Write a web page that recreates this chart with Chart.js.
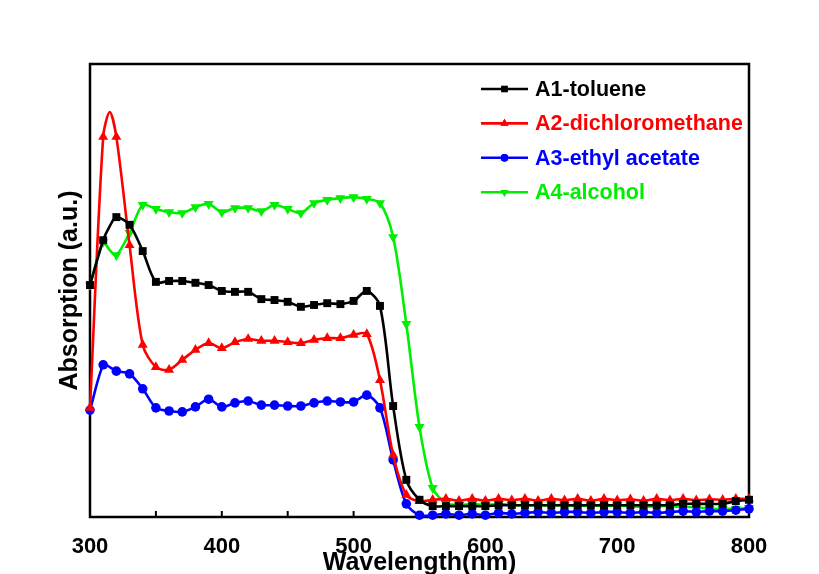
<!DOCTYPE html>
<html>
<head>
<meta charset="utf-8">
<script src="https://cdn.jsdelivr.net/npm/chart.js@4.4.1/dist/chart.umd.min.js"></script>
<style>
  html, body { margin: 0; padding: 0; background: #fff; }
  #wrap { width: 819px; height: 574px; }
</style>
</head>
<body>
<div id="wrap"><canvas id="c" width="819" height="574"></canvas></div>
<script>
// Wavelength (nm)
const wavelengths = [300,310,315,320,330,340,350,360,370,380,390,400,410,420,430,440,450,460,470,480,490,500,510,520,530,540,550,560,570,580,590,600,610,620,630,640,650,660,670,680,690,700,710,720,730,740,750,760,770,780,790,800];
const seriesNames = ['A1-toluene','A2-dichloromethane','A3-ethyl acetate','A4-alcohol'];
// Absorption (a.u.)
const a1Toluene = [0.512,0.611,0.642,0.662,0.645,0.587,0.519,0.521,0.521,0.517,0.512,0.499,0.497,0.497,0.481,0.479,0.475,0.464,0.468,0.472,0.470,0.477,0.499,0.466,0.245,0.082,0.038,0.024,0.024,0.024,0.024,0.024,0.026,0.026,0.026,0.026,0.026,0.026,0.026,0.026,0.026,0.026,0.026,0.026,0.026,0.026,0.029,0.029,0.029,0.029,0.035,0.038];
const a2Dichloromethane = [0.241,0.839,0.894,0.839,0.600,0.380,0.331,0.325,0.347,0.369,0.384,0.373,0.386,0.393,0.389,0.389,0.386,0.384,0.391,0.395,0.395,0.402,0.404,0.302,0.137,0.049,0.035,0.038,0.040,0.036,0.040,0.036,0.040,0.037,0.040,0.036,0.040,0.037,0.040,0.036,0.040,0.037,0.039,0.036,0.040,0.037,0.040,0.037,0.039,0.038,0.040,0.040];
const a3EthylAcetate = [0.236,0.336,0.331,0.322,0.316,0.283,0.241,0.234,0.232,0.243,0.260,0.243,0.252,0.256,0.247,0.247,0.245,0.245,0.252,0.256,0.254,0.254,0.269,0.241,0.126,0.029,0.004,0.004,0.007,0.004,0.007,0.004,0.009,0.007,0.009,0.011,0.009,0.011,0.011,0.009,0.011,0.011,0.009,0.011,0.009,0.011,0.013,0.011,0.013,0.013,0.015,0.018];
const a4Alcohol = [0.512,0.607,0.589,0.578,0.627,0.689,0.680,0.673,0.671,0.684,0.691,0.673,0.682,0.682,0.675,0.689,0.680,0.671,0.693,0.700,0.704,0.706,0.702,0.693,0.618,0.426,0.199,0.064,0.031,0.026,0.029,0.026,0.029,0.026,0.026,0.026,0.026,0.026,0.024,0.026,0.024,0.026,0.024,0.022,0.024,0.024,0.022,0.022,0.018,0.018,0.018,0.020];
const xTicks = [300,400,500,600,700,800];

const colors = ['#000000','#ff0000','#0000ff','#00ee00'];
const styles = [
  {pointStyle:'rect', radius:5.6, rotation:0},
  {pointStyle:'triangle', radius:5.8, rotation:0},
  {pointStyle:'circle', radius:4.8, rotation:0},
  {pointStyle:'triangle', radius:5.8, rotation:180}
];
const FONT = '"Liberation Sans", Arial, sans-serif';

const allSeries = [a1Toluene, a2Dichloromethane, a3EthylAcetate, a4Alcohol];
const datasets = allSeries.map((vals, i) => ({
  label: seriesNames[i],
  data: wavelengths.map((w, k) => ({x: w, y: vals[k]})),
  borderColor: colors[i],
  backgroundColor: colors[i],
  borderWidth: 2.6,
  tension: 0.3,
  pointStyle: styles[i].pointStyle,
  rotation: styles[i].rotation,
  pointRadius: ctx => (ctx.raw && ctx.raw.x % 10 === 0 ? styles[i].radius : 0),
  pointHoverRadius: 0,
  pointBorderWidth: 0,
  pointBackgroundColor: colors[i],
  clip: false
}));

const boxPlugin = {
  id: 'box',
  beforeDatasetsDraw(chart) {
    const {ctx, chartArea: a, scales: {x}} = chart;
    ctx.save();
    ctx.strokeStyle = '#000';
    ctx.lineWidth = 2.5;
    ctx.strokeRect(a.left, a.top, a.right - a.left, a.bottom - a.top);
    ctx.lineWidth = 2;
    for (let v = 300; v <= 800; v += 50) {
      const px = x.getPixelForValue(v);
      ctx.beginPath();
      ctx.moveTo(px, a.bottom);
      ctx.lineTo(px, a.bottom - 6);
      ctx.stroke();
    }
    ctx.restore();
  }
};

const legendPlugin = {
  id: 'customLegend',
  afterDraw(chart) {
    const {ctx} = chart;
    ctx.save();
    chart.data.datasets.forEach((ds, i) => {
      const y = 89 + i * 34.4;
      ctx.strokeStyle = ds.borderColor;
      ctx.lineWidth = 2.6;
      ctx.beginPath();
      ctx.moveTo(481, y);
      ctx.lineTo(528, y);
      ctx.stroke();
      ctx.fillStyle = ds.borderColor;
      Chart.helpers.drawPoint(ctx, {pointStyle: styles[i].pointStyle, radius: styles[i].radius * 0.8, rotation: styles[i].rotation, borderWidth: 0}, 504.5, y);
      ctx.fill();
      ctx.font = 'bold 21.5px ' + FONT;
      ctx.textBaseline = 'middle';
      ctx.textAlign = 'left';
      ctx.fillStyle = ds.borderColor;
      ctx.fillText(ds.label, 535, y + 1);
    });
    ctx.restore();
  }
};

new Chart(document.getElementById('c'), {
  type: 'line',
  data: { datasets },
  options: {
    responsive: false,
    animation: false,
    events: [],
    layout: { padding: { left: 0, right: 70, top: 64, bottom: 0 } },
    plugins: { legend: { display: false }, tooltip: { enabled: false } },
    scales: {
      x: {
        type: 'linear', min: 300, max: 800,
        afterBuildTicks: s => { s.ticks = xTicks.map(v => ({value: v})); },
        afterFit: s => { s.height = 57; },
        grid: { display: false, drawTicks: false },
        border: { display: false },
        ticks: { color: '#000', font: { family: FONT, size: 22, weight: 'bold' }, padding: 17, maxRotation: 0 },
        title: { display: true, text: 'Wavelength(nm)', color: '#000', font: { family: FONT, size: 25, weight: 'bold', lineHeight: 1 }, padding: { top: 0, bottom: -1.5 } }
      },
      y: {
        min: 0, max: 1,
        afterFit: s => { s.width = 90; },
        grid: { display: false, drawTicks: false },
        border: { display: false },
        ticks: { display: false },
        title: { display: true, text: 'Absorption (a.u.)', color: '#000', font: { family: FONT, size: 25, weight: 'bold', lineHeight: 1 }, padding: { top: 58, bottom: 0 } }
      }
    }
  },
  plugins: [boxPlugin, legendPlugin]
});
</script>
</body>
</html>
